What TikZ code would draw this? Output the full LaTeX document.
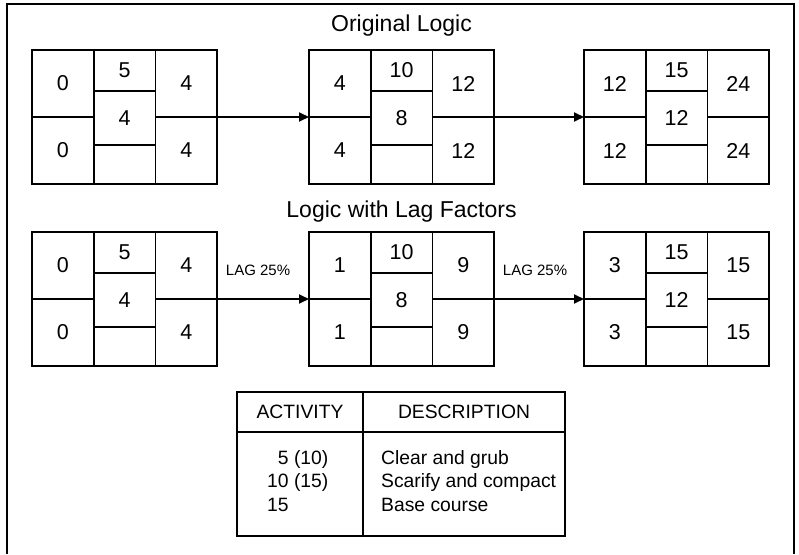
\documentclass[tikz,border=0pt]{standalone}
\usepackage{fontspec}
\setmainfont{Liberation Sans}
\usetikzlibrary{shapes, arrows.meta, positioning}

% one activity box: name, top left corner, ES, activity, duration, EF, LS, LF
\newcommand{\activity}[8]{
  \node (#1-es)  [cell, minimum height=67pt, anchor=north west] at (#2) {#3};
  \node (#1-ls)  [cell, minimum height=67pt, below=0pt of #1-es] {#7};
  \node (#1-id)  [cell, minimum height=41pt, anchor=north west] at (#1-es.north east) {#4};
  \node (#1-dur) [cell, minimum height=54pt, below=0pt of #1-id] {#5};
  \node (#1-nil) [cell, minimum height=39pt, below=0pt of #1-dur] {};
  \node (#1-ef)  [cell, minimum height=67pt, anchor=north west] at (#1-id.north east) {#6};
  \node (#1-lf)  [cell, minimum height=67pt, below=0pt of #1-ef] {#8};
}

\begin{document}
\begin{tikzpicture}[x=1pt, y=-1pt,
    cell/.style={draw, rectangle, line width=1.8pt, minimum width=61.7pt, inner sep=0pt, outer sep=0pt, font=\fontsize{21.5}{24}\selectfont},
    title/.style={font=\fontsize{23}{27}\selectfont},
    lag/.style={font=\fontsize{15}{18}\selectfont},
    link/.style={line width=1.8pt, -{Triangle[length=10pt, width=9pt]}},
    tab/.style={draw, rectangle, line width=1.8pt, inner sep=0pt, outer sep=0pt, font=\fontsize{19.3}{23.5}\selectfont},
    list/.style={inner sep=0pt, align=left, font=\fontsize{19.3}{23.5}\selectfont}]

    \useasboundingbox (0,0) rectangle (799,554);
    \draw [line width=2pt] (7,554) -- (7,4) -- (794,4) -- (794,554);

    % Original logic
    \node (title1) [title] at (401.5,26) {Original Logic};
    \activity{a1}{32,50}{0}{5}{4}{4}{0}{4}
    \activity{a2}{309,50}{4}{10}{8}{12}{4}{12}
    \activity{a3}{584,50}{12}{15}{12}{24}{12}{24}

    \draw [link] (a1-ef.south east) -- (a2-es.south west);
    \draw [link] (a2-ef.south east) -- (a3-es.south west);

    % Logic with lag factors
    \node (title2) [title] at (401.5,212) {Logic with Lag Factors};
    \activity{b1}{32,232}{0}{5}{4}{4}{0}{4}
    \activity{b2}{309,232}{1}{10}{8}{9}{1}{9}
    \activity{b3}{584,232}{3}{15}{12}{15}{3}{15}

    \draw [link] (b1-ef.south east) -- node (lag1) [lag, above=19pt, xshift=-5pt] {LAG 25\%} (b2-es.south west);
    \draw [link] (b2-ef.south east) -- node (lag2) [lag, above=19pt, xshift=-4pt] {LAG 25\%} (b3-es.south west);

    % Activity legend
    \node (acthead)  [tab, minimum width=126pt, minimum height=40pt, anchor=north west] at (237,392) {ACTIVITY};
    \node (deschead) [tab, minimum width=202pt, minimum height=40pt, anchor=north west] at (acthead.north east) {DESCRIPTION};
    \node (actbody)  [tab, minimum width=126pt, minimum height=104pt, below=0pt of acthead] {};
    \node (descbody) [tab, minimum width=202pt, minimum height=104pt, below=0pt of deschead] {};
    \node (actlist)  [list, below right=18pt and 30pt of actbody.north west] {\hphantom{1}5 (10)\\10 (15)\\15};
    \node (desclist) [list, below right=18pt and 18pt of descbody.north west] {Clear and grub\\Scarify and compact\\Base course};
\end{tikzpicture}
\end{document}
